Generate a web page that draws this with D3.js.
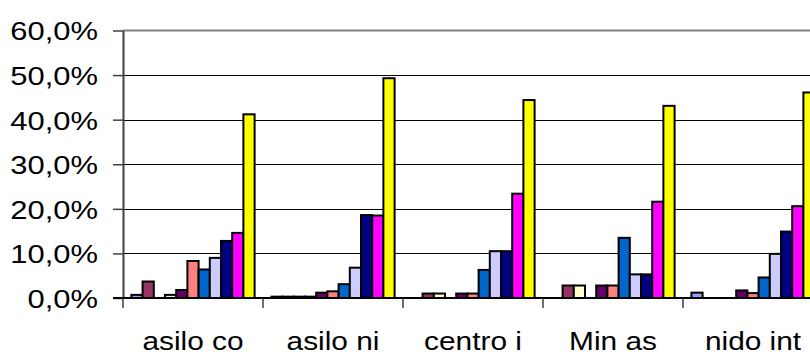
<!DOCTYPE html>
<html>
<head>
<meta charset="utf-8">
<script src="https://cdn.jsdelivr.net/npm/d3@7"></script>
<style>
  html, body { margin: 0; padding: 0; background: #fff; }
  svg { display: block; font-family: "Liberation Sans", Arial, sans-serif; }
</style>
</head>
<body>
<svg id="chart" width="810" height="356"></svg>
<script>
// Categories along the x axis
const categories = ["asilo co", "asilo ni", "centro i", "Min as", "nido int"];

// Series values (percent) per category
const serie1  = [0.7, 0.3, 0.0, 0.0, 1.2];
const serie2  = [3.7, 0.3, 1.0, 2.8, 0.0];
const serie3  = [0.0, 0.3, 1.0, 2.8, 0.0];
const serie4  = [0.7, 0.3, 0.0, 0.0, 0.0];
const serie5  = [1.8, 1.2, 1.0, 2.8, 1.7];
const serie6  = [8.3, 1.5, 1.0, 2.8, 1.1];
const serie7  = [6.4, 3.1, 6.3, 13.5, 4.6];
const serie8  = [9.0, 6.8, 10.5, 5.3, 9.9];
const serie9  = [12.8, 18.6, 10.5, 5.3, 14.9];
const serie10 = [14.6, 18.5, 23.4, 21.6, 20.6];
const serie11 = [41.2, 49.3, 44.4, 43.1, 46.1];

const seriesValues = [serie1, serie2, serie3, serie4, serie5, serie6,
                      serie7, serie8, serie9, serie10, serie11];
const seriesNames = seriesValues.map((_, i) => "Serie " + (i + 1));
const seriesColors = ["#9999FF", "#993366", "#FFFFCC", "#CCFFFF", "#660066", "#FF8080",
                      "#0066CC", "#CCCCFF", "#000080", "#FF00FF", "#FFFF00"];

// Y axis ticks (fractions)
const yTicks = [0, 0.1, 0.2, 0.3, 0.4, 0.5, 0.6];

const svg = d3.select("#chart");
const plot = { left: 123, right: 823, top: 30.5, bottom: 298 };

const x = d3.scaleBand().domain(categories).range([plot.left, plot.right]).padding(0);
const xs = d3.scaleBand().domain(seriesNames).range([0, x.bandwidth()])
  .paddingInner(0).paddingOuter(0.75);
const y = d3.scaleLinear().domain([0, 0.6]).range([plot.bottom, plot.top]);
const color = d3.scaleOrdinal().domain(seriesNames).range(seriesColors);

const fmt = v => d3.format(".1f")(v * 100).replace(".", ",") + "%";

// Gridlines
svg.append("g").selectAll("line")
  .data(yTicks.filter(t => t > 0 && t < 0.6))
  .join("line")
  .attr("x1", plot.left).attr("x2", plot.right)
  .attr("y1", d => Math.round(y(d)) + 0.5).attr("y2", d => Math.round(y(d)) + 0.5)
  .attr("stroke", "#000").attr("stroke-width", 1);

// Plot area top border
svg.append("line")
  .attr("x1", plot.left).attr("x2", plot.right)
  .attr("y1", y(0.6)).attr("y2", y(0.6))
  .attr("stroke", "#808080").attr("stroke-width", 2);

// Bars
const rows = [];
seriesValues.forEach((vals, si) => {
  vals.forEach((v, ci) => {
    if (v > 0) rows.push({ cat: categories[ci], series: seriesNames[si], value: v / 100 });
  });
});

svg.append("g").selectAll("rect")
  .data(rows)
  .join("rect")
  .attr("x", d => x(d.cat) + xs(d.series))
  .attr("width", xs.bandwidth())
  .attr("y", d => y(d.value))
  .attr("height", d => y(0) - y(d.value))
  .attr("fill", d => color(d.series))
  .attr("stroke", "#000")
  .attr("stroke-width", 2);

// Y axis
const yAxis = svg.append("g")
  .attr("transform", `translate(${plot.left},0)`)
  .call(d3.axisLeft(y).tickValues(yTicks).tickFormat(fmt).tickSize(10).tickSizeOuter(0));
yAxis.select(".domain").attr("stroke", "#404040").attr("stroke-width", 2);
yAxis.selectAll(".tick line").attr("stroke", "#404040").attr("stroke-width", 1.5);
yAxis.selectAll(".tick text")
  .attr("x", -25)
  .attr("dy", "0.36em")
  .attr("fill", "#000")
  .style("font-size", "26px")
  .attr("text-anchor", "end")
  .attr("transform", "scale(1.19,1)")
  .attr("transform-origin", "-25 0");

// X axis
const xAxis = svg.append("g")
  .attr("transform", `translate(0,${plot.bottom})`)
  .call(d3.axisBottom(x).tickSize(0).tickSizeOuter(0));
xAxis.select(".domain").attr("stroke", "#000").attr("stroke-width", 2)
  .attr("d", `M${plot.left - 10},0H${plot.right}`);
xAxis.selectAll(".tick text")
  .attr("y", 52.5)
  .attr("dy", 0)
  .attr("fill", "#000")
  .style("font-size", "25.5px")
  .attr("transform", "scale(1.17,1)")
  .attr("transform-origin", "0 0");

// Category separator ticks
svg.append("g").selectAll("line")
  .data(categories.concat([null]))
  .join("line")
  .attr("x1", (d, i) => plot.left + i * x.step())
  .attr("x2", (d, i) => plot.left + i * x.step())
  .attr("y1", plot.bottom).attr("y2", plot.bottom + 10)
  .attr("stroke", "#404040").attr("stroke-width", 1.5);
</script>
</body>
</html>
